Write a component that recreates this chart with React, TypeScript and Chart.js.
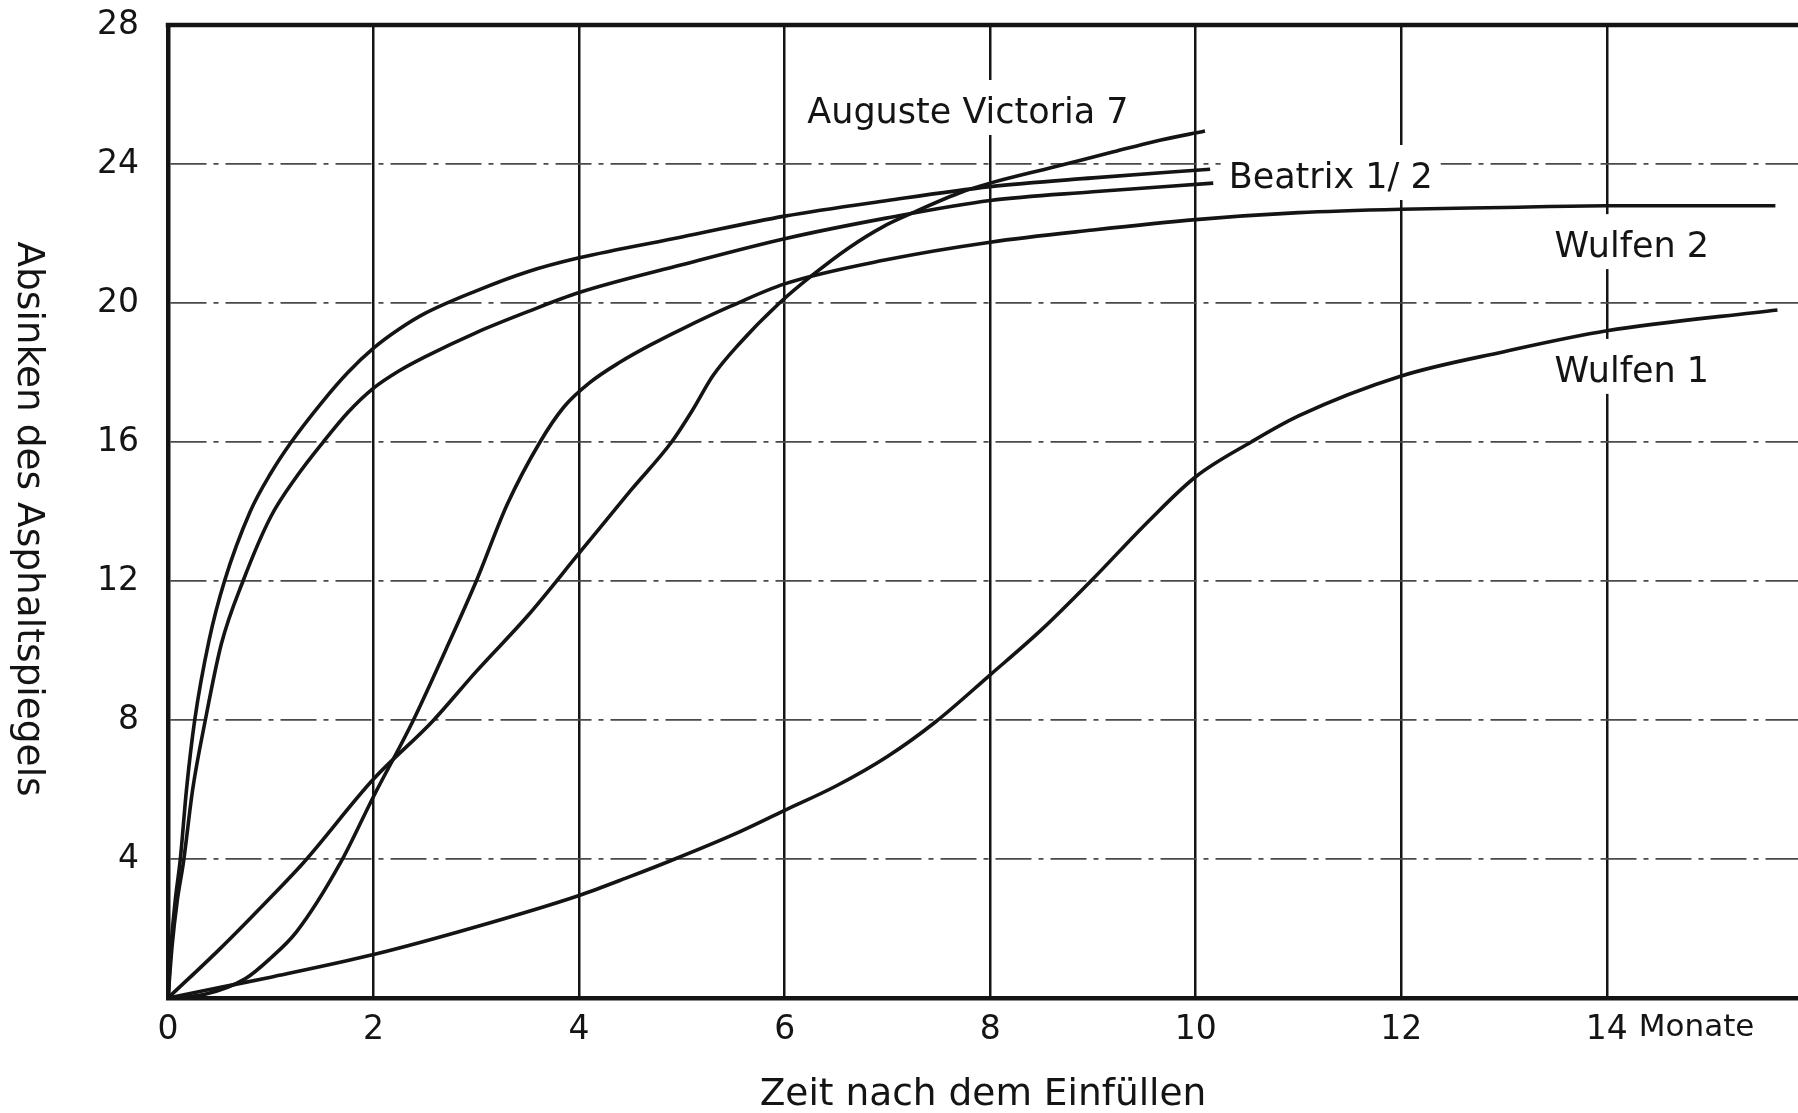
import { useEffect, useRef } from 'react';
import { Chart, registerables } from 'chart.js';

Chart.register(...registerables);

const FONT = "'DejaVu Sans', 'Liberation Sans', sans-serif";
const INK = '#141414';

// x axis (months) and y axis ticks
const xTicks = [0, 2, 4, 6, 8, 10, 12, 14];
const yTicks = [0, 4, 8, 12, 16, 20, 24, 28];
const xTitle = 'Zeit nach dem Einfüllen';
const yTitle = 'Absinken des Asphaltspiegels';
const xUnit = 'Monate';

// Auguste Victoria 7
const avMonths = [0, 0.5, 1, 1.32, 2, 2.57, 3, 3.5, 4, 4.5, 4.9, 5.1, 5.3, 5.55, 5.95, 6.27, 6.63, 6.96, 7.25, 7.73, 8, 8.6, 9.2, 9.6, 10.09];
const avValues = [0, 1.4, 2.9, 3.9, 6.3, 7.95, 9.4, 11.0, 12.8, 14.6, 16.0, 16.9, 17.9, 18.8, 20.0, 20.8, 21.6, 22.2, 22.6, 23.2, 23.45, 23.9, 24.35, 24.65, 24.95];

// Beatrix 1
const b1Months = [0, 0.03, 0.07, 0.12, 0.18, 0.26, 0.4, 0.55, 0.8, 1.0, 1.2, 1.5, 1.75, 2.0, 2.25, 2.5, 3.0, 3.5, 4.0, 5.0, 6.0, 7.0, 8.0, 9.0, 10.14];
const b1Values = [0, 1.5, 2.8, 4.0, 6.0, 8.0, 10.3, 12.0, 14.0, 15.1, 16.0, 17.15, 18.0, 18.7, 19.25, 19.7, 20.35, 20.9, 21.3, 21.9, 22.5, 22.95, 23.35, 23.6, 23.85];

// Beatrix 2
const b2Months = [0, 0.04, 0.09, 0.15, 0.24, 0.36, 0.52, 0.73, 1.0, 1.25, 1.51, 1.75, 2.0, 2.25, 2.5, 3.0, 3.5, 4.0, 5.0, 6.0, 7.0, 8.0, 9.0, 10.17];
const b2Values = [0, 1.5, 2.8, 3.9, 6.0, 7.95, 10.2, 12.0, 13.85, 15.0, 16.0, 16.85, 17.55, 18.05, 18.45, 19.15, 19.75, 20.3, 21.1, 21.85, 22.45, 22.95, 23.2, 23.45];

// Wulfen 2
const w2Months = [0, 0.35, 0.75, 1.0, 1.25, 1.68, 2.0, 2.38, 2.7, 3.0, 3.3, 3.62, 3.85, 4.1, 4.4, 4.7, 5.0, 5.47, 6.0, 7.0, 8.0, 9.0, 10.0, 11.0, 12.0, 13.0, 14.0, 15.64];
const w2Values = [0, 0.1, 0.55, 1.15, 1.9, 3.9, 5.8, 7.95, 10.0, 12.0, 14.2, 16.0, 17.0, 17.7, 18.3, 18.8, 19.25, 19.9, 20.55, 21.25, 21.75, 22.1, 22.4, 22.6, 22.7, 22.75, 22.8, 22.8];

// Wulfen 1
const w1Months = [0, 0.5, 1, 2, 3, 4, 4.5, 4.89, 5.5, 6, 6.5, 7, 7.47, 8, 8.5, 8.98, 9.55, 10, 10.54, 11, 12, 13, 14, 15.66];
const w1Values = [0, 0.3, 0.6, 1.25, 2.05, 2.95, 3.5, 3.95, 4.7, 5.4, 6.1, 6.95, 7.95, 9.3, 10.6, 12.0, 13.75, 15.0, 16.0, 16.75, 17.9, 18.6, 19.2, 19.8];

// curve labels (anchored in data units: left edge month, baseline value)
const curveLabels = ['Auguste Victoria 7', 'Beatrix 1/ 2', 'Wulfen 2', 'Wulfen 1'];
const labelMonths = [6.22, 10.32, 13.49, 13.49];
const labelBaselines = [25.18, 23.31, 21.32, 17.73];

const pts = (m: number[], v: number[]) => m.map((x, i) => ({ x, y: v[i] }));

const overlay = {
  id: 'overlay',
  beforeDatasetsDraw(chart: any) {
    const { ctx, chartArea, scales } = chart;
    const x = scales.x;
    const y = scales.y;
    ctx.save();
    // top frame line
    ctx.strokeStyle = INK;
    ctx.lineWidth = 4.5;
    ctx.beginPath();
    ctx.moveTo(chartArea.left - 2.25, chartArea.top);
    ctx.lineTo(chartArea.right, chartArea.top);
    ctx.stroke();
    // curve labels with white background that breaks grid lines
    ctx.font = `35px ${FONT}`;
    ctx.textBaseline = 'alphabetic';
    ctx.textAlign = 'left';
    curveLabels.forEach((t, i) => {
      const px = x.getPixelForValue(labelMonths[i]);
      const py = y.getPixelForValue(labelBaselines[i]);
      const w = ctx.measureText(t).width;
      ctx.fillStyle = '#ffffff';
      ctx.fillRect(px - 8, py - 43, w + 16, 55);
      ctx.fillStyle = INK;
      ctx.fillText(t, px, py);
    });
    ctx.restore();
  },
  afterDraw(chart: any) {
    const { ctx, chartArea, scales } = chart;
    const x = scales.x;
    ctx.save();
    ctx.fillStyle = INK;
    // unit after the last tick
    ctx.font = `33px ${FONT}`;
    ctx.textBaseline = 'top';
    ctx.textAlign = 'left';
    const p14 = x.getPixelForValue(14);
    const w14 = ctx.measureText('14').width;
    ctx.font = `31px ${FONT}`;
    ctx.fillText(xUnit, p14 + w14 / 2 + 11, chartArea.bottom + 14);
    // x title
    ctx.font = `37.5px ${FONT}`;
    ctx.textAlign = 'center';
    ctx.textBaseline = 'alphabetic';
    ctx.fillText(xTitle, (chartArea.left + chartArea.right) / 2, chartArea.bottom + 107);
    // y title, reading top to bottom
    ctx.translate(18, 519);
    ctx.rotate(Math.PI / 2);
    ctx.fillText(yTitle, 0, 0);
    ctx.restore();
  },
};

export default function App() {
  const ref = useRef<HTMLCanvasElement>(null);
  useEffect(() => {
    document.body.style.margin = '0';
    const line = (m: number[], v: number[]) => ({
      data: pts(m, v),
      borderColor: INK,
      borderWidth: 3.6,
      pointRadius: 0,
      fill: false,
      cubicInterpolationMode: 'monotone' as const,
    });
    const chart = new Chart(ref.current!, {
      type: 'line',
      data: {
        datasets: [
          line(avMonths, avValues),
          line(b1Months, b1Values),
          line(b2Months, b2Values),
          line(w2Months, w2Values),
          line(w1Months, w1Values),
        ],
      },
      options: {
        animation: false,
        responsive: true,
        maintainAspectRatio: false,
        layout: { padding: { top: 25, right: 0, left: 0, bottom: 0 } },
        plugins: { legend: { display: false }, tooltip: { enabled: false } },
        scales: {
          x: {
            type: 'linear',
            min: 0,
            max: 15.86,
            afterBuildTicks: (s: any) => { s.ticks = xTicks.map((v) => ({ value: v })); },
            afterFit: (s: any) => {
              s.height = 115;
              s.paddingLeft = 0;
              s.paddingRight = 0;
            },
            ticks: {
              color: INK,
              font: { family: FONT, size: 33 },
              padding: 13,
              maxRotation: 0,
              autoSkip: false,
            },
            grid: {
              drawTicks: false,
              color: (c: any) => (c.tick && c.tick.value === 0 ? 'rgba(0,0,0,0)' : INK),
              lineWidth: 2.5,
            },
            border: { display: true, color: INK, width: 4.5 },
          },
          y: {
            type: 'linear',
            min: 0,
            max: 28,
            afterBuildTicks: (s: any) => { s.ticks = yTicks.map((v) => ({ value: v })); },
            afterFit: (s: any) => {
              s.width = 168;
              s.paddingTop = 0;
              s.paddingBottom = 0;
            },
            ticks: {
              color: INK,
              font: { family: FONT, size: 33 },
              padding: 29,
              callback: (v: any) => (v === 0 ? '' : String(v)),
            },
            grid: {
              drawTicks: false,
              color: (c: any) => (c.tick && (c.tick.value === 0 || c.tick.value === 28) ? 'rgba(0,0,0,0)' : '#4a4a4a'),
              lineWidth: 1.7,
            },
            border: { display: true, color: INK, width: 4.5, dash: [36, 7, 5, 7] },
          },
        },
      },
      plugins: [overlay],
    });
    return () => chart.destroy();
  }, []);
  return (
    <div style={{ position: 'fixed', left: 0, top: 0, width: '100vw', height: '100vh', background: '#fff' }}>
      <canvas ref={ref} />
    </div>
  );
}
